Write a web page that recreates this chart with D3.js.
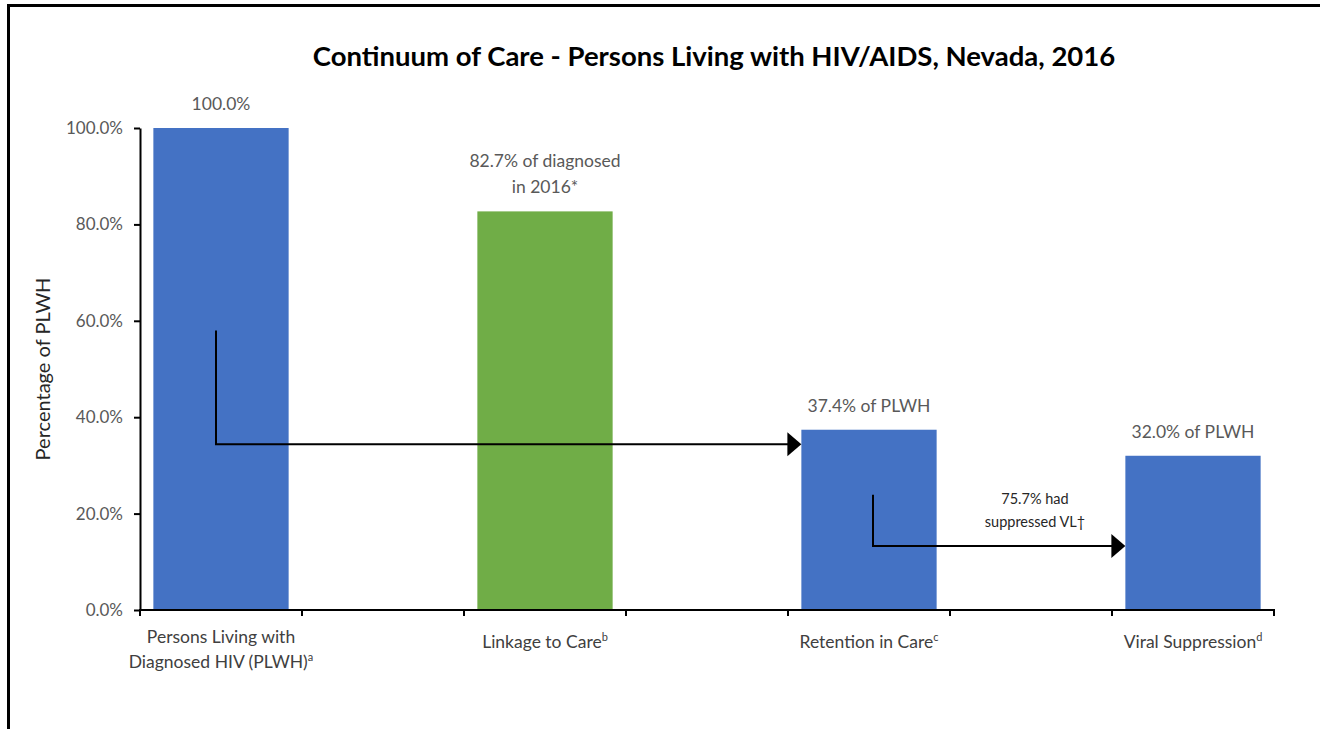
<!DOCTYPE html>
<html>
<head>
<meta charset="utf-8">
<script src="https://cdn.jsdelivr.net/npm/d3@7"></script>
<style>
  html, body { margin: 0; padding: 0; background: #fff; }
  svg { display: block; }
  text { font-family: Lato, "Open Sans", sans-serif; }
</style>
</head>
<body>
<svg id="chart" width="1320" height="729"></svg>
<script>
// ---- data ----
const title = "Continuum of Care - Persons Living with HIV/AIDS, Nevada, 2016";
const yAxisTitle = "Percentage of PLWH";
// slots on the category axis (Excel chart with blank categories between bars)
const slots = ["plwh", "gap1", "linkage", "gap2", "retention", "gap3", "viral"];
const barKeys = ["plwh", "linkage", "retention", "viral"];
const barValues = [100.0, 82.7, 37.4, 32.0];
const barColors = ["#4472C4", "#70AD47", "#4472C4", "#4472C4"];
const catLabelLines = [["Persons Living with", "Diagnosed HIV (PLWH)"], ["Linkage to Care"], ["Retention in Care"], ["Viral Suppression"]];
const catSupers = ["a", "b", "c", "d"];
const valueLabelLines = [["100.0%"], ["82.7% of diagnosed", "in 2016*"], ["37.4% of PLWH"], ["32.0% of PLWH"]];
const yTicks = [0, 20, 40, 60, 80, 100];
// connector arrows: from bar, to bar, vertical start (%), level (%), x offset from bar centre
const arrowFrom = ["plwh", "retention"];
const arrowTo = ["retention", "viral"];
const arrowTop = [58.0, 23.9];
const arrowLevel = [34.4, 13.3];
const arrowDx = [-5, 4];
const arrowNoteLines = ["75.7% had", "suppressed VL\u2020"];

// ---- layout ----
const svg = d3.select("#chart");
const plot = { left: 140, right: 1274, top: 128, bottom: 610 };

const x = d3.scaleBand().domain(slots).range([plot.left, plot.right]).padding(0);
const y = d3.scaleLinear().domain([0, 100]).range([plot.bottom, plot.top]);
const barW = x.bandwidth() * 0.835;
const cx = k => x(k) + x.bandwidth() / 2;

// outer frame
svg.append("rect")
  .attr("x", 8.5).attr("y", 5.5).attr("width", 1330).attr("height", 740)
  .attr("fill", "none").attr("stroke", "#000").attr("stroke-width", 3);

// title
svg.append("text")
  .attr("x", 714).attr("y", 66)
  .attr("text-anchor", "middle")
  .attr("font-size", 27.5).attr("font-weight", 700).attr("fill", "#000")
  .text(title);

// y axis title
svg.append("text")
  .attr("transform", "translate(50,369) rotate(-90)")
  .attr("text-anchor", "middle")
  .attr("font-size", 20).attr("fill", "#262626")
  .text(yAxisTitle);

// bars
const bars = barKeys.map((k, i) => ({ key: k, value: barValues[i], color: barColors[i], i }));
svg.append("g").selectAll("rect").data(bars).join("rect")
  .attr("x", d => cx(d.key) - barW / 2)
  .attr("y", d => y(d.value))
  .attr("width", barW)
  .attr("height", d => y(0) - y(d.value))
  .attr("fill", d => d.color);

// y axis
const yAxis = d3.axisLeft(y).tickValues(yTicks).tickFormat(d => d.toFixed(1) + "%")
  .tickSizeInner(6).tickSizeOuter(0).tickPadding(11);
const gy = svg.append("g").attr("transform", `translate(${plot.left},0)`).call(yAxis);
gy.select(".domain").attr("stroke", "#000").attr("stroke-width", 2);
gy.selectAll(".tick line").attr("stroke", "#000").attr("stroke-width", 2);
gy.selectAll(".tick text").attr("font-size", 17).attr("fill", "#595959")
  .attr("font-family", "Lato, sans-serif");

// x axis line and boundary ticks
const gx = svg.append("g");
gx.append("line")
  .attr("x1", plot.left - 1).attr("x2", plot.right + 1)
  .attr("y1", y(0)).attr("y2", y(0))
  .attr("stroke", "#000").attr("stroke-width", 2);
const boundaries = slots.map(s => x(s)).concat([x(slots[slots.length - 1]) + x.bandwidth()]);
gx.selectAll("line.tk").data(boundaries).join("line").attr("class", "tk")
  .attr("x1", d => d).attr("x2", d => d)
  .attr("y1", y(0)).attr("y2", y(0) + 6)
  .attr("stroke", "#000").attr("stroke-width", 2);

// category labels
const catG = svg.append("g");
bars.forEach((d, i) => {
  const lines = catLabelLines[i];
  const t = catG.append("text")
    .attr("text-anchor", "middle")
    .attr("font-size", 17.5).attr("fill", "#404040");
  const y0 = lines.length > 1 ? 643 : 648;
  lines.forEach((ln, j) => {
    t.append("tspan").attr("x", cx(d.key)).attr("y", y0 + j * 25).text(ln);
    if (j === lines.length - 1) {
      t.append("tspan").attr("dy", -7).attr("font-size", 11).text(catSupers[i]);
    }
  });
});

// value labels
const valG = svg.append("g");
bars.forEach((d, i) => {
  const lines = valueLabelLines[i];
  const t = valG.append("text")
    .attr("text-anchor", "middle")
    .attr("font-size", 17.5).attr("fill", "#595959");
  lines.forEach((ln, j) => {
    t.append("tspan").attr("x", cx(d.key))
      .attr("y", y(d.value) - 18 - (lines.length - 1 - j) * 26)
      .text(ln);
  });
});

// arrows
const arrowG = svg.append("g");
arrowFrom.forEach((f, i) => {
  const xs = cx(f) + arrowDx[i];
  const tipX = cx(arrowTo[i]) - barW / 2;
  const yTop = y(arrowTop[i]);
  const yLev = y(arrowLevel[i]);
  const headL = 14, headH = 12;
  arrowG.append("path")
    .attr("d", `M${xs},${yTop} V${yLev} H${tipX - headL + 1}`)
    .attr("fill", "none").attr("stroke", "#000").attr("stroke-width", 2);
  arrowG.append("path")
    .attr("d", `M${tipX - headL},${yLev - headH} L${tipX},${yLev} L${tipX - headL},${yLev + headH} Z`)
    .attr("fill", "#000");
});

// arrow note
const noteT = svg.append("text").attr("text-anchor", "middle")
  .attr("font-size", 14.5).attr("fill", "#262626");
arrowNoteLines.forEach((ln, j) => {
  noteT.append("tspan").attr("x", 1035).attr("y", 504 + j * 23).text(ln);
});
</script>
</body>
</html>
